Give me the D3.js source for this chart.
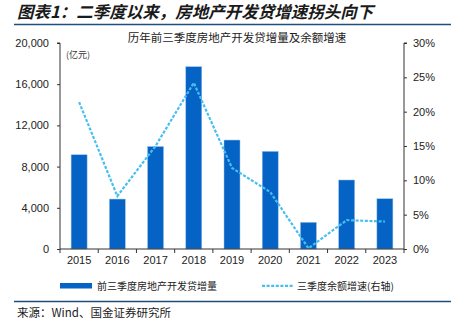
<!DOCTYPE html>
<html><head><meta charset="utf-8">
<script src="https://cdn.jsdelivr.net/npm/d3@7"></script>
<style>body{margin:0;background:#fff;} svg{display:block;}</style>
</head><body>
<svg id="c" width="451" height="323"></svg>
<script>
const categories = ["2015","2016","2017","2018","2019","2020","2021","2022","2023"];
const loanIncrease = [9150, 4850, 9950, 17700, 10580, 9480, 2590, 6700, 4880];
const balanceGrowth = [21.4, 7.7, 15.0, 24.2, 11.8, 8.3, 0.1, 4.2, 4.0];
const leftTicks = [0, 4000, 8000, 12000, 16000, 20000];
const rightTicks = [0, 5, 10, 15, 20, 25, 30];

const svg = d3.select("#c");
const cjk = "'Noto Sans CJK SC', sans-serif";
const latin = "'Liberation Sans', Arial, sans-serif";
const m = {l: 60, r: 404, t: 43, b: 249};

// header
svg.append("text").attr("x", 17).attr("y", 18).text("图表1：二季度以来，房地产开发贷增速拐头向下")
  .style("font-family", cjk).style("font-size", "16.5px").style("font-weight", "bold").style("font-style", "italic").attr("fill", "#1a1a1a");
svg.append("line").attr("x1", 14).attr("x2", 451).attr("y1", 24.5).attr("y2", 24.5).attr("stroke", "#1f4e79").attr("stroke-width", 1.5);
svg.append("line").attr("x1", 14).attr("x2", 451).attr("y1", 301.5).attr("y2", 301.5).attr("stroke", "#1f4e79").attr("stroke-width", 1.5);
svg.append("text").attr("x", 17).attr("y", 317).text("来源：Wind、国金证券研究所")
  .style("font-family", cjk).style("font-size", "11.5px").attr("fill", "#1a1a1a");

svg.append("text").attr("x", 237).attr("y", 42).attr("text-anchor", "middle").text("历年前三季度房地产开发贷增量及余额增速")
  .style("font-family", cjk).style("font-size", "11.5px").attr("fill", "#222");
svg.append("text").attr("x", 66).attr("y", 58).text("(亿元)")
  .style("font-family", cjk).style("font-size", "9px").attr("fill", "#333");

const xb = d3.scaleBand().domain(categories).range([m.l, m.r]);
const yL = d3.scaleLinear().domain([0, 20000]).range([m.b, m.t]);
const yR = d3.scaleLinear().domain([0, 30]).range([m.b, m.t]);

// bars
svg.append("g").selectAll("rect").data(categories).join("rect")
  .attr("x", d => xb(d) + xb.bandwidth()/2 - 8).attr("width", 16)
  .attr("y", (d,i) => yL(loanIncrease[i])).attr("height", (d,i) => m.b - yL(loanIncrease[i]))
  .attr("fill", "#0563c6").attr("stroke", "#9cc3ea").attr("stroke-width", 0.5);

// line
const line = d3.line().x((d,i) => xb(categories[i]) + xb.bandwidth()/2).y(d => yR(d)).curve(d3.curveLinear);
svg.append("path").datum(balanceGrowth).attr("d", line).attr("fill", "none")
  .attr("stroke", "#45bff0").attr("stroke-width", 2.2).attr("stroke-dasharray", "3,1.6");

// axes
const fmt = d3.format(",");
const gL = svg.append("g").attr("transform", `translate(${m.l},0)`)
  .call(d3.axisLeft(yL).tickValues(leftTicks).tickFormat(fmt).tickSize(3).tickPadding(8));
const gR = svg.append("g").attr("transform", `translate(${m.r},0)`)
  .call(d3.axisRight(yR).tickValues(rightTicks).tickFormat(d => d + "%").tickSize(3).tickPadding(6));
const gX = svg.append("g").attr("transform", `translate(0,${m.b})`)
  .call(d3.axisBottom(xb).tickSize(0).tickPadding(7));
gX.selectAll(".tick").append("line").attr("x1", xb.bandwidth()/2).attr("x2", xb.bandwidth()/2).attr("y1", 0).attr("y2", 4).attr("stroke", "#333");
gX.append("line").attr("x1", m.l).attr("x2", m.l).attr("y1", 0).attr("y2", 4).attr("stroke", "#333");
[gL, gR, gX].forEach(g => {
  g.selectAll("text").style("font-family", latin).style("font-size", "11px").attr("fill", "#222");
  g.selectAll("line").attr("stroke", "#333");
  g.select(".domain").attr("stroke", "#333");
});
gX.select(".domain").attr("d", `M${m.l},0H${m.r}`);
gL.select(".domain").attr("d", `M-3,${m.t}H0V${m.b}`);
gR.select(".domain").attr("d", `M3,${m.t}H0V${m.b}`);

// legend
const lg = svg.append("g");
lg.append("rect").attr("x", 60).attr("y", 283).attr("width", 32).attr("height", 5.5).attr("fill", "#0563c6");
lg.append("text").attr("x", 97).attr("y", 290).text("前三季度房地产开发贷增量")
  .style("font-family", cjk).style("font-size", "10px").attr("fill", "#222");
lg.append("line").attr("x1", 262).attr("x2", 293).attr("y1", 285.8).attr("y2", 285.8)
  .attr("stroke", "#45bff0").attr("stroke-width", 2.2).attr("stroke-dasharray", "3,1.6");
lg.append("text").attr("x", 297).attr("y", 290).text("三季度余额增速(右轴)")
  .style("font-family", cjk).style("font-size", "10px").attr("fill", "#222");
</script>
</body></html>
